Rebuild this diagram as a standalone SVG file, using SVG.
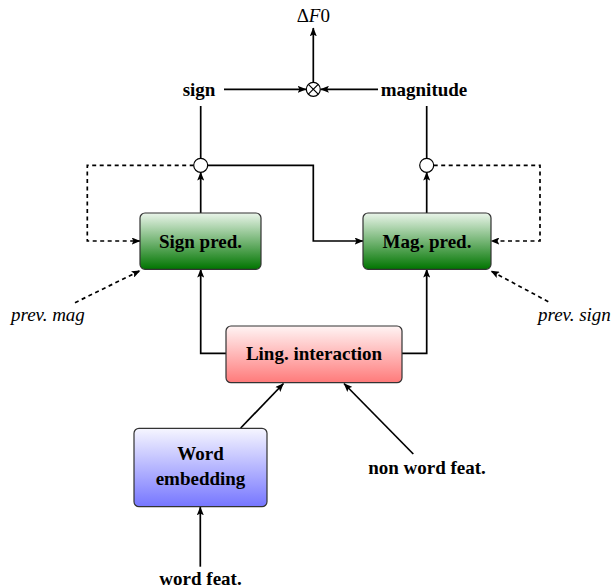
<svg xmlns="http://www.w3.org/2000/svg" width="616" height="588" viewBox="0 0 616 588">
<style>
.t{font-family:"Liberation Serif","Times New Roman",serif;font-weight:bold;font-size:19px;fill:#000;text-anchor:middle}
.i{font-family:"Liberation Serif","Times New Roman",serif;font-style:italic;font-size:19px;fill:#000}
.box{stroke:#333;stroke-width:1.2}
.ln{fill:none;stroke:#000;stroke-width:1.7}
.ar{marker-end:url(#ah)}
.ds{stroke-dasharray:4 3.5}
</style>
<defs>
<marker id="ah" viewBox="0 0 10 8" refX="9.5" refY="4" markerWidth="9" markerHeight="7" markerUnits="userSpaceOnUse" orient="auto">
<path d="M0,0 L10,4 L0,8 L2,4 Z" fill="#000"/>
</marker>
<linearGradient id="gG" x1="0" y1="0" x2="0" y2="1">
<stop offset="0" stop-color="#eaf5ea"/><stop offset="1" stop-color="#007500"/>
</linearGradient>
<linearGradient id="gR" x1="0" y1="0" x2="0" y2="1">
<stop offset="0" stop-color="#fff4f4"/><stop offset="1" stop-color="#ff7a7a"/>
</linearGradient>
<linearGradient id="gB" x1="0" y1="0" x2="0" y2="1">
<stop offset="0" stop-color="#f6f6ff"/><stop offset="1" stop-color="#7676ff"/>
</linearGradient>
</defs>
<g id="connectors">
<line class="ln ar" x1="313.3" y1="82" x2="313.3" y2="28"/>
<line class="ln ar" x1="224" y1="89.3" x2="306" y2="89.3"/>
<line class="ln ar" x1="378" y1="89.3" x2="320.6" y2="89.3"/>
<line class="ln" x1="200.7" y1="106" x2="200.7" y2="158"/>
<line class="ln" x1="426.7" y1="106" x2="426.7" y2="158"/>
<line class="ln ar" x1="200.7" y1="213" x2="200.7" y2="172.3"/>
<line class="ln ar" x1="426.7" y1="213" x2="426.7" y2="172.3"/>
<polyline class="ln ar" points="207.7,165.3 313.3,165.3 313.3,241 363,241"/>
<polyline class="ln ds ar" points="193.7,165.3 87.3,165.3 87.3,241 140,241"/>
<polyline class="ln ds ar" points="433.7,165.3 540,165.3 540,241 491,241"/>
<polyline class="ln ar" points="226,353.3 200.7,353.3 200.7,269.3"/>
<polyline class="ln ar" points="402,353.3 426.7,353.3 426.7,269.3"/>
<line class="ln ds ar" x1="75" y1="302.7" x2="140" y2="270.7"/>
<line class="ln ds ar" x1="548.3" y1="301.7" x2="491" y2="271"/>
<line class="ln ar" x1="240.7" y1="428" x2="283.5" y2="383.5"/>
<line class="ln ar" x1="413.3" y1="454" x2="344" y2="383.5"/>
<line class="ln ar" x1="200.3" y1="566.7" x2="200.3" y2="507"/>
</g>
<g id="otimes">
<circle cx="313.3" cy="89.3" r="7" fill="#fff" stroke="#000" stroke-width="1.2"/>
<line x1="308.4" y1="84.4" x2="318.2" y2="94.2" stroke="#000" stroke-width="1.2"/>
<line x1="318.2" y1="84.4" x2="308.4" y2="94.2" stroke="#000" stroke-width="1.2"/>
</g>
<g id="junction-left"><circle cx="200.7" cy="165.3" r="7" fill="#fff" stroke="#000" stroke-width="1.2"/></g>
<g id="junction-right"><circle cx="426.7" cy="165.3" r="7" fill="#fff" stroke="#000" stroke-width="1.2"/></g>
<g id="sign-pred">
<rect class="box" x="140" y="213" width="121" height="56.3" rx="5" fill="url(#gG)"/>
<text class="t" x="200.5" y="247.5">Sign pred.</text>
</g>
<g id="mag-pred">
<rect class="box" x="363" y="213" width="128" height="56.3" rx="5" fill="url(#gG)"/>
<text class="t" x="427" y="247.5">Mag. pred.</text>
</g>
<g id="ling-interaction">
<rect class="box" x="226" y="326" width="176" height="56.7" rx="5" fill="url(#gR)"/>
<text class="t" x="314" y="359.5">Ling. interaction</text>
</g>
<g id="word-embedding">
<rect class="box" x="134" y="428.3" width="133" height="78.4" rx="5" fill="url(#gB)"/>
<text class="t" x="200.5" y="460">Word</text>
<text class="t" x="200.5" y="484.5">embedding</text>
</g>
<g id="delta-f0">
<text x="313.3" y="22" style="font-family:'Liberation Serif','Times New Roman',serif;font-size:19px;text-anchor:middle">Δ<tspan font-style="italic">F</tspan>0</text>
</g>
<g id="sign-label"><text class="t" x="199" y="95.5">sign</text></g>
<g id="magnitude-label"><text class="t" x="424" y="95.5">magnitude</text></g>
<g id="prev-mag"><text class="i" x="11" y="321">prev. mag</text></g>
<g id="prev-sign"><text class="i" x="538" y="321">prev. sign</text></g>
<g id="non-word-feat"><text class="t" x="427" y="473.5">non word feat.</text></g>
<g id="word-feat"><text class="t" x="200.5" y="585">word feat.</text></g>
</svg>
